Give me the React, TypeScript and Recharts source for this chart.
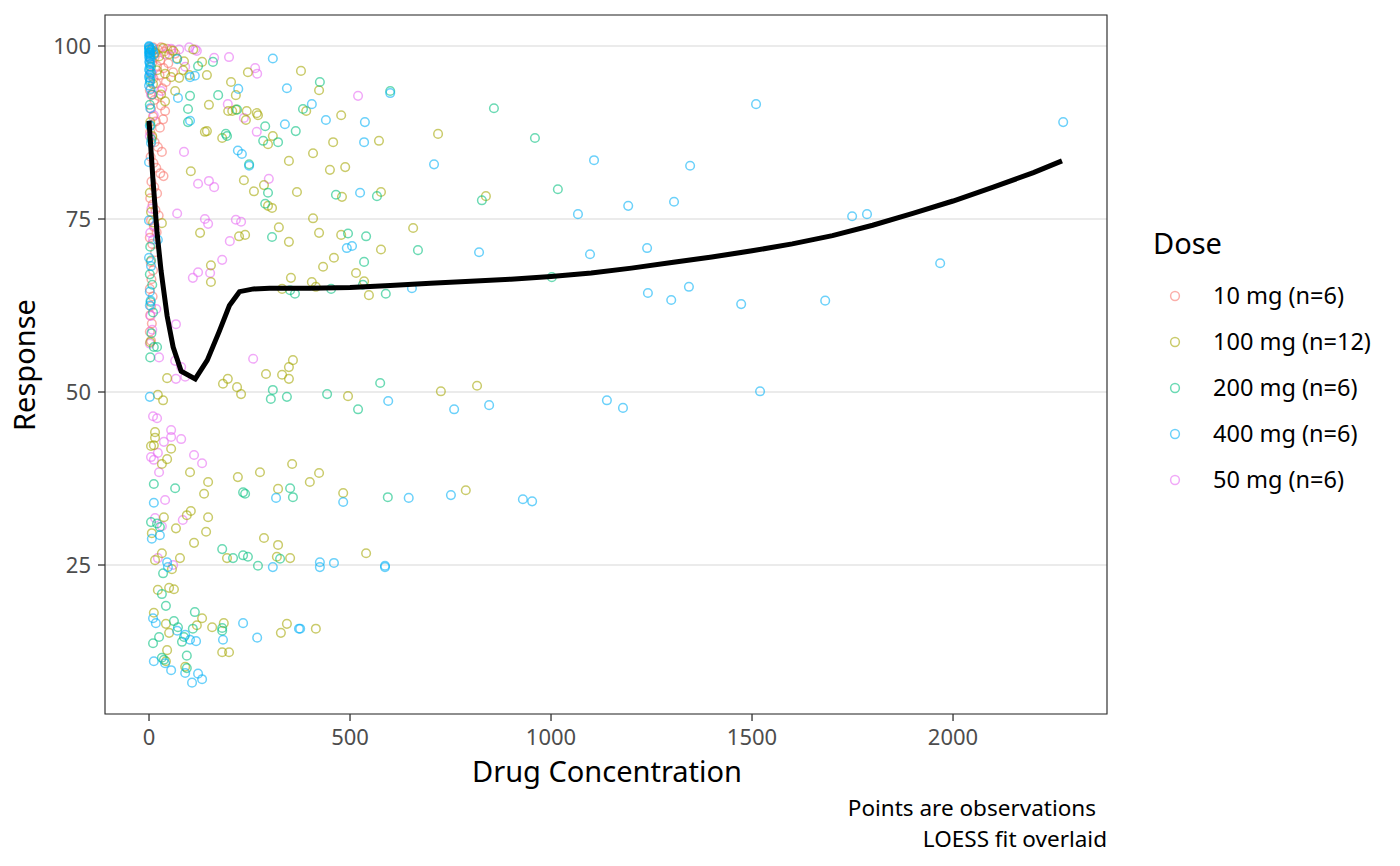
import React from "react";
import { ScatterChart, Scatter, XAxis, YAxis, CartesianGrid, ReferenceArea } from "recharts";

// observations per dose group: [concentration, response]
const dose10: number[][] = [
  [2, 99.7], [6, 99.4], [10, 99.8], [15, 99.1], [22, 99.5], [30, 99.8], [38, 99.2], [45, 99.6], [55, 99.4], [65, 98.9],
  [3, 98.2], [8, 97.6], [14, 98.4], [20, 97.1], [28, 97.9], [36, 96.8], [48, 97.5], [60, 96.2],
  [4, 96.0], [11, 95.3], [18, 94.6], [26, 95.8], [33, 93.9], [42, 94.8],
  [2, 93.6], [7, 92.9], [13, 92.2], [24, 92.8], [30, 91.4], [40, 90.6],
  [5, 90.9], [10, 89.8], [17, 89.1], [27, 88.2], [35, 89.4],
  [3, 87.6], [8, 86.8], [14, 86.1], [22, 85.4], [32, 84.7],
  [4, 84.0], [11, 83.1], [18, 82.4], [28, 81.6], [36, 81.2],
  [6, 80.4], [13, 79.6], [20, 78.7], [3, 78.0], [9, 77.1], [16, 76.3], [24, 75.5],
  [5, 74.8], [12, 73.9], [19, 73.1], [2, 72.3], [8, 71.4], [15, 70.2],
  [4, 68.8], [10, 67.6], [6, 66.3], [2, 64.9], [9, 63.8], [5, 62.4], [3, 61.1], [7, 59.9], [2, 58.7], [5, 57.4],
];

const dose50: number[][] = [
  [119, 99.3], [162, 98.3], [199, 98.4], [264, 96.8], [269, 96.0], [196, 91.6], [236, 89.6], [268, 87.6], [87, 84.7],
  [122, 80.1], [149, 80.5], [162, 79.6], [298, 80.8], [70, 75.8], [139, 75.0], [147, 74.3], [216, 74.9], [229, 74.6],
  [201, 71.8], [182, 69.1], [122, 67.3], [109, 66.5], [152, 67.2], [67, 59.8], [65, 54.5], [259, 54.8], [80, 53.6],
  [67, 51.9], [90, 52.2], [10, 46.5], [20, 46.2], [55, 44.5], [80, 43.2], [37, 42.8], [55, 43.5], [22, 41.2], [5, 40.6],
  [12, 40.2], [112, 40.9], [132, 39.7], [25, 38.4], [40, 34.4], [84, 31.5], [15, 31.8], [32, 30.6], [22, 26.0], [60, 25.0],
  [520, 92.8], [3, 98.5], [8, 96.0], [5, 93.0], [12, 90.0], [2, 87.0], [6, 76.5], [15, 74.0], [3, 73.0], [10, 72.0],
  [4, 61.0], [8, 59.0], [2, 57.0], [18, 62.0], [25, 55.0], [40, 98.8], [55, 99.6], [75, 99.5], [90, 97.0], [30, 93.5],
  [115, 99.5], [100, 99.8],
];

const dose100: number[][] = [
  [132, 97.7], [87, 97.8], [75, 95.4], [144, 95.8], [246, 96.2], [378, 96.4], [204, 94.8], [216, 92.9], [149, 91.5],
  [197, 90.6], [207, 90.6], [216, 90.8], [243, 90.6], [241, 89.3], [268, 90.3], [271, 90.0], [139, 87.6], [144, 87.7],
  [182, 86.7], [296, 85.8], [308, 87.0], [348, 83.4], [104, 81.9], [236, 80.6], [261, 79.0], [286, 79.9], [368, 78.9],
  [296, 76.9], [306, 76.6], [323, 73.8], [127, 73.0], [224, 72.5], [239, 72.7], [348, 71.7], [154, 68.3], [154, 65.9],
  [353, 66.5], [331, 64.9], [358, 54.6], [348, 53.6], [331, 52.5], [348, 51.9], [291, 52.6], [45, 52.0], [184, 51.2],
  [196, 51.9], [219, 50.7], [229, 49.7], [22, 49.6], [35, 48.8], [15, 44.2], [15, 43.4], [5, 42.2], [12, 42.3], [55, 41.8],
  [45, 40.3], [32, 39.6], [102, 38.4], [221, 37.7], [276, 38.4], [356, 39.6], [147, 37.0], [137, 35.3], [321, 36.0],
  [37, 31.9], [104, 32.8], [94, 32.2], [147, 31.9], [67, 30.3], [142, 29.8], [112, 28.2], [7, 29.6], [286, 28.9],
  [321, 27.9], [194, 26.0], [318, 26.2], [351, 26.0], [15, 25.7], [32, 26.7], [77, 26.0], [57, 24.4], [22, 21.4],
  [50, 21.7], [62, 21.5], [12, 18.1], [42, 16.5], [50, 15.2], [132, 17.3], [119, 16.3], [157, 16.0], [186, 16.6],
  [343, 16.5], [328, 15.2], [45, 12.7], [182, 12.4], [199, 12.4], [42, 11.1], [90, 10.3],
  [423, 93.6], [391, 90.6], [478, 90.0], [719, 87.3], [458, 86.1], [572, 86.3], [408, 84.5], [450, 82.1], [488, 82.5],
  [480, 78.2], [577, 78.9], [838, 78.3], [408, 75.1], [423, 73.0], [478, 72.7], [657, 73.7], [460, 69.4], [577, 70.6],
  [433, 68.1], [515, 67.2], [405, 65.9], [415, 65.2], [535, 66.0], [547, 64.0], [495, 49.4], [726, 50.1], [816, 50.9],
  [400, 37.0], [423, 38.3], [483, 35.4], [788, 35.8], [540, 26.7], [415, 15.8],
  [5, 99.5], [15, 99.0], [25, 98.5], [35, 99.7], [50, 98.8], [60, 99.3], [70, 98.2], [20, 96.5], [40, 96.0], [55, 95.5],
  [10, 94.5], [30, 93.0], [3, 89.0], [8, 87.0], [2, 78.8], [5, 76.0], [10, 74.5], [32, 74.4], [3, 57.2], [40, 92.0],
  [65, 93.5], [85, 96.5], [100, 95.8], [110, 99.5],
];

const dose200: number[][] = [
  [122, 97.1], [159, 97.7], [172, 92.9], [102, 92.8], [97, 90.9], [97, 89.0], [219, 90.8], [289, 88.4], [365, 87.7],
  [191, 87.3], [194, 87.0], [284, 86.3], [321, 86.1], [249, 82.9], [296, 78.8], [289, 77.2], [306, 72.4], [351, 64.7],
  [363, 64.2], [308, 50.3], [303, 49.0], [343, 49.3], [12, 36.7], [65, 36.1], [234, 35.5], [239, 35.3], [351, 36.1],
  [358, 34.8], [5, 31.2], [20, 31.0], [27, 30.5], [182, 27.3], [209, 26.0], [234, 26.4], [246, 26.2], [271, 24.9],
  [326, 25.9], [35, 23.8], [32, 20.8], [42, 19.1], [62, 16.9], [72, 16.0], [114, 18.2], [109, 15.8], [87, 14.6],
  [82, 13.9], [25, 14.6], [10, 13.7], [182, 15.9], [182, 15.5], [94, 11.9], [32, 11.6], [37, 11.3], [94, 10.1],
  [425, 94.8], [600, 93.5], [383, 90.9], [858, 91.0], [960, 86.7], [1017, 79.3], [465, 78.5], [567, 78.3], [828, 77.7],
  [495, 72.9], [540, 72.5], [535, 68.8], [669, 70.5], [453, 64.9], [532, 65.5], [589, 64.2], [1002, 66.6], [443, 49.7],
  [520, 47.5], [575, 51.3], [594, 34.8],
  [2, 99.0], [5, 97.0], [3, 95.0], [8, 93.0], [2, 91.5], [4, 88.5], [6, 86.5], [3, 71.0], [5, 69.0], [2, 67.0],
  [8, 65.5], [4, 63.0], [10, 61.5], [6, 58.5], [12, 56.5], [3, 55.0], [20, 56.5],
];

const dose400: number[][] = [
  [0, 100], [1, 99.8], [2, 99.6], [0, 99.4], [3, 99.2], [1, 99.0], [2, 98.7], [0, 98.4], [4, 98.1], [1, 97.8],
  [3, 97.4], [2, 97.0], [0, 96.6], [5, 96.2], [1, 95.8], [3, 95.3], [2, 94.8], [0, 94.3], [4, 93.8], [8, 99.7],
  [10, 99.3], [12, 98.8], [0, 99.9], [1, 99.5], [2, 99.1], [0, 98.9], [3, 98.4], [1, 97.6], [2, 96.4], [0, 95.5],
  [70, 98.1], [308, 98.2], [102, 95.5], [114, 95.7], [222, 93.8], [343, 93.9], [72, 92.5], [102, 89.2], [338, 88.7],
  [221, 84.9], [231, 84.4], [249, 82.7], [0, 83.2], [0, 74.8], [22, 72.0], [0, 69.4], [5, 68.2], [2, 49.3], [12, 34.0],
  [7, 28.8], [27, 29.3], [45, 25.4], [47, 24.7], [308, 24.7], [316, 34.7], [10, 17.3], [17, 16.6], [70, 15.5],
  [90, 14.9], [102, 14.2], [117, 14.0], [234, 16.6], [184, 14.2], [269, 14.5], [373, 15.8], [12, 11.1], [40, 10.8],
  [55, 9.8], [90, 9.4], [122, 9.3], [132, 8.5], [107, 8.0],
  [600, 93.2], [405, 91.6], [440, 89.3], [537, 89.0], [535, 86.1], [709, 82.9], [1107, 83.5], [525, 78.8], [1067, 75.7],
  [492, 70.8], [505, 71.1], [821, 70.2], [1097, 69.9], [654, 65.0], [595, 48.7], [759, 47.5], [846, 48.1], [483, 34.1],
  [646, 34.7], [751, 35.1], [930, 34.5], [953, 34.2], [425, 25.4], [425, 24.7], [460, 25.3], [587, 24.7], [587, 24.9],
  [376, 15.8],
  [1510, 91.6], [1346, 82.7], [1192, 76.9], [1306, 77.5], [1239, 70.8], [1241, 64.3], [1299, 63.3], [1343, 65.2],
  [1473, 62.7], [1682, 63.2], [1749, 75.4], [1786, 75.7], [1968, 68.6], [2274, 89.0], [1139, 48.8], [1179, 47.7],
  [1520, 50.1],
  [3, 91.0], [2, 88.5], [5, 86.0], [2, 64.5], [4, 63.2], [2, 62.5],
];

// smoothed fit
const loessFit: number[][] = [
  [0, 89.2], [10, 80.5], [20, 73.0], [30, 67.5], [45, 61.0], [60, 56.5], [80, 53.0], [115, 51.9], [145, 54.6],
  [175, 58.8], [200, 62.5], [225, 64.5], [260, 64.9], [300, 65.0], [400, 65.0], [500, 65.1], [600, 65.4],
  [700, 65.7], [800, 66.0], [900, 66.3], [1000, 66.7], [1100, 67.2], [1200, 67.9], [1300, 68.7], [1400, 69.5],
  [1500, 70.4], [1600, 71.4], [1700, 72.6], [1800, 74.1], [1900, 75.8], [2000, 77.6], [2100, 79.6], [2200, 81.7],
  [2271, 83.4],
];

const xTicks = [0, 500, 1000, 1500, 2000];
const yTicks = [25, 50, 75, 100];

const groups = [
  { label: "10 mg (n=6)", color: "#F8766D", points: dose10 },
  { label: "100 mg (n=12)", color: "#A3A500", points: dose100 },
  { label: "200 mg (n=6)", color: "#00BF7D", points: dose200 },
  { label: "400 mg (n=6)", color: "#00B0F6", points: dose400 },
  { label: "50 mg (n=6)", color: "#E76BF3", points: dose50 },
];

const drawOrder = [0, 4, 1, 2, 3];

const toXY = (pts: number[][]) => pts.map(([x, y]) => ({ x, y }));

const ring = (color: string) => (props: any) => (
  <circle
    cx={props.cx}
    cy={props.cy}
    r={4.3}
    fill="none"
    stroke={color}
    strokeWidth={1.5}
    strokeOpacity={0.58}
  />
);

const FONT = "'Noto Sans', 'Open Sans', sans-serif";

export default function App() {
  return (
    <div style={{ position: "absolute", left: 0, top: 0, width: 1400, height: 866, background: "#fff", fontFamily: FONT }}>
      <ScatterChart width={1400} height={866} margin={{ top: 15, right: 293, bottom: 122, left: 0 }}>
        <CartesianGrid vertical={false} stroke="#EBEBEB" strokeWidth={2} />
        <XAxis
          type="number"
          dataKey="x"
          domain={[-109.5, 2383]}
          ticks={xTicks}
          height={30}
          axisLine={false}
          tickSize={7}
          tickMargin={8}
          tickLine={{ stroke: "#333333", strokeWidth: 1.3 }}
          tick={{ fill: "#4D4D4D", fontSize: 22, fontFamily: FONT }}
          allowDataOverflow
        />
        <YAxis
          type="number"
          dataKey="y"
          domain={[3.47, 104.48]}
          ticks={yTicks}
          width={105}
          axisLine={false}
          tickSize={7}
          tickMargin={7}
          tickLine={{ stroke: "#333333", strokeWidth: 1.3 }}
          tick={{ fill: "#4D4D4D", fontSize: 22, fontFamily: FONT }}
          allowDataOverflow
        />
        {drawOrder.map((i) => (
          <Scatter
            key={groups[i].label}
            data={toXY(groups[i].points)}
            shape={ring(groups[i].color)}
            isAnimationActive={false}
          />
        ))}
        <Scatter
          data={toXY(loessFit)}
          line={{ stroke: "#000000", strokeWidth: 5 }}
          lineJointType="linear"
          shape={() => <g />}
          isAnimationActive={false}
        />
        <ReferenceArea
          x1={-109.5}
          x2={2383}
          y1={3.47}
          y2={104.48}
          fill="none"
          stroke="#333333"
          strokeWidth={1.2}
          fillOpacity={0}
        />
      </ScatterChart>

      <svg
        width={1400}
        height={866}
        style={{ position: "absolute", left: 0, top: 0, pointerEvents: "none" }}
        fontFamily={FONT}
      >
        <text transform="translate(35,365) rotate(-90)" textAnchor="middle" fontSize={29} fill="#000">
          Response
        </text>
        <text x={607} y={782} textAnchor="middle" fontSize={29} fill="#000">
          Drug Concentration
        </text>
        <text x={1096} y={816} textAnchor="end" fontSize={22.5} fill="#000">
          Points are observations
        </text>
        <text x={1107} y={847} textAnchor="end" fontSize={22.5} fill="#000">
          LOESS fit overlaid
        </text>

        <text x={1153} y={254} fontSize={29} fill="#000">
          Dose
        </text>
        {groups.map((g, i) => (
          <g key={g.label}>
            <circle
              cx={1175}
              cy={296 + i * 46}
              r={4.4}
              fill="none"
              stroke={g.color}
              strokeWidth={1.5}
              strokeOpacity={0.58}
            />
            <text x={1213} y={304 + i * 46} fontSize={23.5} fill="#000">
              {g.label}
            </text>
          </g>
        ))}
      </svg>
    </div>
  );
}
